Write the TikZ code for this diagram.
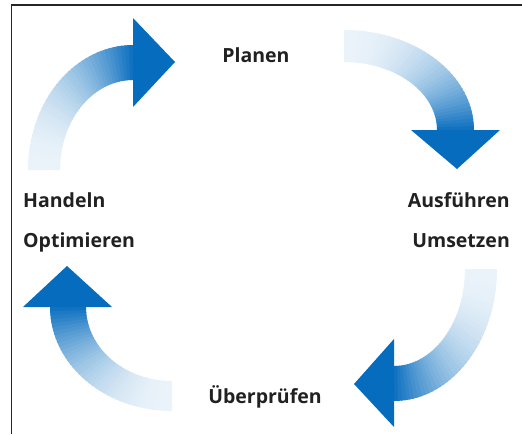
\documentclass[tikz,border=0pt]{standalone}
\usepackage{fontspec}
\setsansfont{Open Sans}
\usetikzlibrary{positioning}
\definecolor{cycleblue}{RGB}{6,108,190}

\begin{document}
\begin{tikzpicture}[
  x=1pt, y=-1pt,
  phase/.style={font=\sffamily\bfseries\fontsize{19.5}{23}\selectfont, text=black!87, inner sep=0pt},
  frame/.style={line width=1.1pt, draw=black!85},
  headfill/.style={fill=cycleblue}
]
\useasboundingbox (0,0) rectangle (522,434);
\draw[frame] (11.5,434) -- (11.5,5) -- (522,5);

% the four bent arrows, light at the tail, blue at the head
\foreach \cx/\cy/\rxo/\ryo/\rxi/\ryi/\aa/\ab in {133/170/105/125/73/90/180/270, 344/130/130/100/93/68/270/360, 394/269/103/132/71/97/0/90, 172/307/122/104/86/74/90/180}{
  \foreach \i in {0,...,39}{
    \pgfmathsetmacro\ta{\aa+(\ab-\aa)*\i/40}
    \pgfmathsetmacro\tb{\aa+(\ab-\aa)*min(\i+1.3,40)/40}
    \pgfmathsetmacro\p{8+90*((\i+0.5)/40)^2}
    \fill[cycleblue!\p!white] ({\cx+\rxo*cos(\ta)},{\cy+\ryo*sin(\ta)})
      arc[start angle=\ta, end angle=\tb, x radius=\rxo, y radius=\ryo]
      -- ({\cx+\rxi*cos(\tb)},{\cy+\ryi*sin(\tb)})
      arc[start angle=\tb, end angle=\ta, x radius=\rxi, y radius=\ryi] -- cycle;
  }
}
\fill[headfill] (133,18) -- (175,62) -- (133,107) -- cycle;
\fill[headfill] (411,130) -- (500,130) -- (457,169) -- cycle;
\fill[headfill] (394,339) -- (354,384) -- (394,427) -- cycle;
\fill[headfill] (23,307) -- (67,266) -- (112,307) -- cycle;

\node[phase, anchor=base] (plan) at (256,62) {Planen};
\node[phase, anchor=base east] (ausf) at (510,207) {Ausführen};
\node[phase, anchor=base east] (umset) at (510,247) {Umsetzen};
\node[phase, anchor=base] (pruef) at (265,403) {Überprüfen};
\node[phase, anchor=base west] (handeln) at (23,207) {Handeln};
\node[phase, anchor=base west] (optim) at (23,247) {Optimieren};
\end{tikzpicture}
\end{document}
